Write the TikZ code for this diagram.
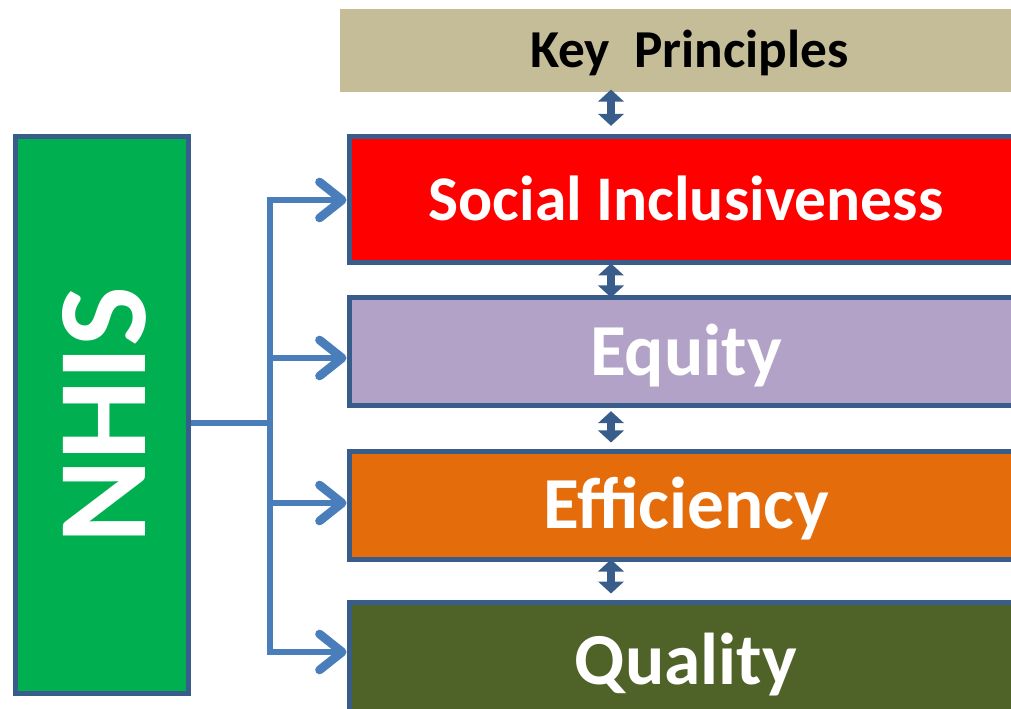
\documentclass[tikz,border=0pt]{standalone}
\usepackage{fontspec}
\setmainfont{Carlito}
\usetikzlibrary{arrows.meta}
\definecolor{keyfill}{HTML}{C4BD97}
\definecolor{socialred}{HTML}{FF0000}
\definecolor{equitylilac}{HTML}{B3A2C7}
\definecolor{efforange}{HTML}{E46C0A}
\definecolor{qualgreen}{HTML}{4F6228}
\definecolor{nhisgreen}{HTML}{00B050}
\definecolor{boxline}{HTML}{385D8A}
\definecolor{connblue}{HTML}{4A7EBB}
\begin{document}
\begin{tikzpicture}[x=0.75pt,y=-0.75pt,
  principle/.style={draw=boxline, line width=3.75pt, text=white, inner sep=0pt,
    font=\bfseries\fontsize{55}{60}\selectfont, text height=35pt, text depth=0pt,
    minimum width=674*0.75pt},
  header/.style={fill=keyfill, inner sep=0pt, text=black,
    font=\bfseries\fontsize{40}{44}\selectfont, text height=25.5pt, text depth=0pt},
  sidebox/.style={draw=boxline, line width=3.75pt, fill=nhisgreen, text=white, inner sep=0pt,
    font=\bfseries\fontsize{95}{100}\selectfont},
  trunk/.style={draw=connblue, line width=4.5pt},
  branch/.style={trunk, -{Straight Barb[length=17pt,width=27pt,round,line width=6.5pt]}},
  link/.style={draw=boxline, line width=5.5pt,
    arrows={Triangle[length=9pt,width=19pt]-Triangle[length=9pt,width=19pt]}}]
\useasboundingbox (0,0) rectangle (1011,709);

% header and principle boxes
\node[header, minimum width=699*0.75pt, minimum height=83*0.75pt] (key) at (689.5,50.5) {Key~~Principles};
\node[principle, fill=socialred, minimum height=126*0.75pt, text height=30.5pt,
  font=\bfseries\fontsize{47.7}{52}\selectfont] (social) at (686,200) {Social Inclusiveness};
\node[principle, fill=equitylilac, minimum height=108*0.75pt] (equity) at (686,352) {Equity};
\node[principle, fill=efforange, minimum height=108*0.75pt] (efficiency) at (686,505) {Efficiency};
\node[principle, fill=qualgreen, minimum height=118*0.75pt] (quality) at (686,661) {Quality};

% NHIS box
\node[sidebox, minimum width=173*0.75pt, minimum height=556*0.75pt] (nhis) at (101.5,415)
  {\hspace*{4pt}\rotatebox{90}{NHIS}};

% branching connector
\coordinate (b0) at (270,423);
\coordinate (b1) at (270,200);
\coordinate (b2) at (270,358);
\coordinate (b3) at (270,503);
\coordinate (b4) at (270,652);
\draw[trunk] (b0 -| nhis.east) -- (b0);
\draw[trunk, line cap=rect] (b1) -- (b4);
\draw[branch] (b1) -- (b1 -| social.west);
\draw[branch] (b2) -- (b2 -| equity.west);
\draw[branch] (b3) -- (b3 -| efficiency.west);
\draw[branch] (b4) -- (b4 -| quality.west);

% two-way links between stacked boxes
\coordinate (ax) at (611,0);
\draw[link, shorten <=-2pt, shorten >=6.5pt] (key.south -| ax) -- (social.north -| ax);
\draw[link, shorten <=-1.5pt, shorten >=-1.5pt] (social.south -| ax) -- (equity.north -| ax);
\draw[link, shorten <=2pt, shorten >=4.5pt] (equity.south -| ax) -- (efficiency.north -| ax);
\draw[link, shorten <=-1.5pt, shorten >=4.5pt] (efficiency.south -| ax) -- (quality.north -| ax);
\end{tikzpicture}
\end{document}
